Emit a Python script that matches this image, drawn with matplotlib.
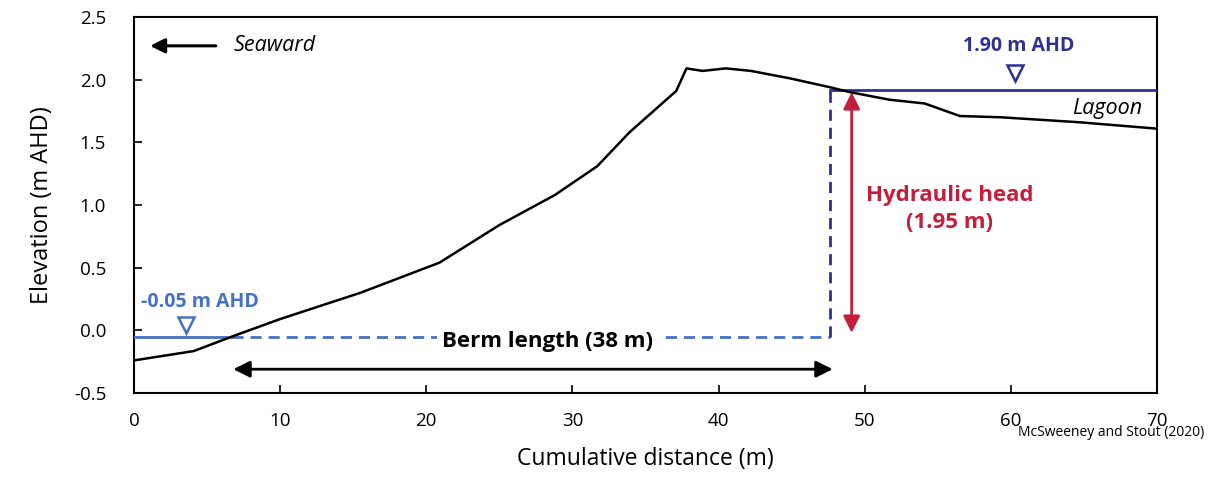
import matplotlib.pyplot as plt
import numpy as np

plt.rcParams['font.family'] = ['Open Sans', 'DejaVu Sans']

# beach profile (cumulative distance m, elevation m AHD)
dist = [0, 4.1, 6.7, 10, 15.5, 20.9, 25, 28.8, 31.7, 33.9, 37.1, 37.8, 38.9,
        40.5, 42.2, 44.9, 47.6, 49.0, 51.7, 54.1, 56.5, 59.3, 64.7, 69.9]
elev = [-0.24, -0.165, -0.05, 0.09, 0.30, 0.54, 0.84, 1.08, 1.31, 1.58, 1.91, 2.09, 2.07,
        2.09, 2.07, 2.01, 1.94, 1.90, 1.84, 1.81, 1.71, 1.70, 1.66, 1.61]

sea_level = -0.05
lagoon_level = 1.92
sea_cross = 6.7
berm_end = 47.6
head_x = 49.1

xticks = [0, 10, 20, 30, 40, 50, 60, 70]
yticks = [-0.5, 0.0, 0.5, 1.0, 1.5, 2.0, 2.5]

sea_blue = '#4472C4'
lag_blue = '#2E3192'
red = '#C41E3A'

fig = plt.figure(figsize=(12.21, 4.79), dpi=100)
ax = fig.add_axes([0.1097, 0.1795, 0.838, 0.785])

ax.plot(dist, elev, color='black', lw=1.8, zorder=4)

# seaward water level
ax.plot([0, sea_cross], [sea_level, sea_level], color=sea_blue, lw=2, zorder=3)
ax.plot([sea_cross, berm_end], [sea_level, sea_level], color=sea_blue, lw=2,
        ls=(0, (4, 2.5)), zorder=3)
ax.plot(3.55, 0.04, marker='v', ms=11, mfc='white', mec=sea_blue, mew=1.8, zorder=5)
ax.text(0.5, 0.23, '-0.05 m AHD', color=sea_blue, fontsize=14, fontweight='bold',
        ha='left', va='center')

# lagoon water level
ax.plot([berm_end, 70], [lagoon_level, lagoon_level], color=lag_blue, lw=2, zorder=3)
ax.plot([berm_end, berm_end], [sea_level, lagoon_level], color=lag_blue, lw=2,
        ls=(0, (4, 2.5)), zorder=3)
ax.plot(60.3, 2.05, marker='v', ms=11, mfc='white', mec=lag_blue, mew=1.8, zorder=5)
ax.text(60.5, 2.27, '1.90 m AHD', color=lag_blue, fontsize=14, fontweight='bold',
        ha='center', va='center')

# berm length
ax.text(28.3, -0.09, 'Berm length (38 m)', fontsize=16, fontweight='bold',
        ha='center', va='center', zorder=6,
        bbox=dict(facecolor='white', edgecolor='none', pad=4))
ax.annotate('', xy=(6.8, -0.31), xytext=(47.8, -0.31),
            arrowprops=dict(arrowstyle='<|-|>', color='black', lw=2,
                            mutation_scale=25, shrinkA=0, shrinkB=0))

# hydraulic head
ax.annotate('', xy=(head_x, -0.02), xytext=(head_x, 1.90),
            arrowprops=dict(arrowstyle='<|-|>', color=red, lw=2,
                            mutation_scale=25, shrinkA=0, shrinkB=0))
ax.text(55.8, 0.97, 'Hydraulic head\n(1.95 m)', color=red, fontsize=16,
        fontweight='bold', ha='center', va='center', linespacing=1.35)

# seaward / lagoon labels
ax.annotate('', xy=(1.1, 2.27), xytext=(5.6, 2.27),
            arrowprops=dict(arrowstyle='-|>', color='black', lw=2.2,
                            mutation_scale=22, shrinkA=0, shrinkB=0))
ax.text(6.8, 2.27, 'Seaward', fontsize=15.5, style='italic', ha='left', va='center')
ax.text(69.0, 1.77, 'Lagoon', fontsize=15.5, style='italic', ha='right', va='center')

ax.set_xlim(0, 70)
ax.set_ylim(-0.5, 2.5)
ax.set_xticks(xticks)
ax.set_yticks(yticks)
ax.set_yticklabels([f'{v:.1f}' for v in yticks])
ax.tick_params(direction='in', length=6, width=1.2, labelsize=13.5)
ax.tick_params(axis='x', pad=14)
ax.tick_params(axis='y', pad=20)
for s in ax.spines.values():
    s.set_linewidth(1.5)

ax.set_xlabel('Cumulative distance (m)', fontsize=16.5, labelpad=12)
ax.set_ylabel('Elevation (m AHD)', fontsize=17, labelpad=14)

fig.text(0.986, 0.098, 'McSweeney and Stout (2020)', fontsize=10, ha='right', va='center')

fig.savefig('out.png', dpi=100)
